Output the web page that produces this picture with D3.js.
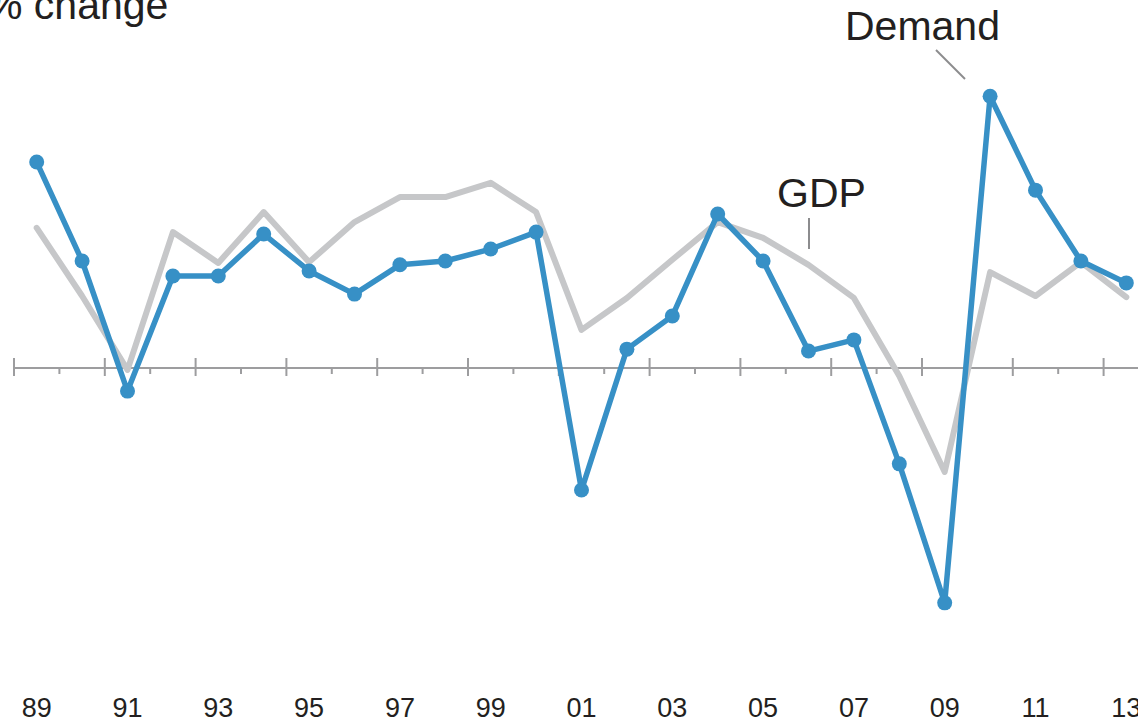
<!DOCTYPE html>
<html>
<head>
<meta charset="utf-8">
<script src="https://cdn.jsdelivr.net/npm/d3@7"></script>
<style>
  body { margin: 0; background: #fff; overflow: hidden; }
  svg { display: block; }
  .lbl { font-family: "Liberation Sans", Arial, sans-serif; fill: #231f20; }
  .tick-lbl { font-family: "Liberation Sans", Arial, sans-serif; fill: #231f20; }
</style>
</head>
<body>
<div id="chart"></div>
<script>
// year labels (two-digit) and the two annual % change series
var years = ["89","90","91","92","93","94","95","96","97","98","99","00","01",
             "02","03","04","05","06","07","08","09","10","11","12","13"];
var demand = [5.35, 2.78, -0.6, 2.39, 2.39, 3.48, 2.52, 1.92, 2.68, 2.78, 3.09, 3.53, -3.17,
              0.49, 1.35, 4.0, 2.78, 0.44, 0.73, -2.49, -6.1, 7.06, 4.62, 2.78, 2.21];
var gdp = [3.64, 1.87, -0.05, 3.53, 2.73, 4.05, 2.75, 3.79, 4.44, 4.44, 4.81, 4.05, 0.99,
           1.82, 2.81, 3.79, 3.38, 2.68, 1.82, -0.21, -2.7, 2.49, 1.87, 2.75, 1.84];
var tickYears = years.filter(function(d, i){ return i % 2 === 0; });

var width = 1138, height = 721;

var svg = d3.select("#chart").append("svg")
    .attr("width", width)
    .attr("height", height);

var x = d3.scaleBand()
    .domain(years)
    .range([14, 1149]);

var y = d3.scaleLinear()
    .domain([-8, 10])
    .range([676, -17]);

var cx = function(d){ return x(d) + x.bandwidth() / 2; };

// zero axis with ticks on the year boundaries
var y0 = y(0);
svg.append("line")
    .attr("x1", x.range()[0]).attr("x2", width)
    .attr("y1", y0).attr("y2", y0)
    .attr("stroke", "#9d9d9f").attr("stroke-width", 2);

svg.selectAll(".tick")
    .data(years)
    .enter().append("line")
    .attr("x1", function(d){ return x(d); })
    .attr("x2", function(d){ return x(d); })
    .attr("y1", function(d, i){ return i % 2 === 0 ? y0 - 10 : y0; })
    .attr("y2", function(d, i){ return i % 2 === 0 ? y0 + 8 : y0 + 6; })
    .attr("stroke", "#9d9d9f").attr("stroke-width", 2);

svg.selectAll(".tick-lbl")
    .data(tickYears)
    .enter().append("text")
    .attr("class", "tick-lbl")
    .attr("x", cx)
    .attr("y", 717)
    .attr("text-anchor", "middle")
    .style("font-size", "27px")
    .text(function(d){ return d; });

var line = function(vals){
    return d3.line()
        .x(function(d, i){ return cx(years[i]); })
        .y(function(d){ return y(d); })(vals);
};

svg.append("path")
    .attr("d", line(gdp))
    .attr("fill", "none")
    .attr("stroke", "#c6c7c9")
    .attr("stroke-width", 6)
    .attr("stroke-linecap", "round")
    .attr("stroke-linejoin", "round");

svg.append("path")
    .attr("d", line(demand))
    .attr("fill", "none")
    .attr("stroke", "#3790c6")
    .attr("stroke-width", 5.5)
    .attr("stroke-linejoin", "round");

svg.selectAll(".dot")
    .data(demand)
    .enter().append("circle")
    .attr("cx", function(d, i){ return cx(years[i]); })
    .attr("cy", function(d){ return y(d); })
    .attr("r", 7.5)
    .attr("fill", "#3790c6");

// labels and leaders
svg.append("text").attr("class", "lbl")
    .attr("x", -14).attr("y", 19)
    .style("font-size", "41px")
    .text("% change");

svg.append("text").attr("class", "lbl")
    .attr("x", 845).attr("y", 40)
    .style("font-size", "41px")
    .text("Demand");
svg.append("line")
    .attr("x1", 936).attr("y1", 50).attr("x2", 965).attr("y2", 79)
    .attr("stroke", "#8c8c8e").attr("stroke-width", 2);

svg.append("text").attr("class", "lbl")
    .attr("x", 777).attr("y", 207)
    .style("font-size", "41px")
    .text("GDP");
svg.append("line")
    .attr("x1", 809).attr("y1", 218).attr("x2", 809).attr("y2", 249)
    .attr("stroke", "#8c8c8e").attr("stroke-width", 2);
</script>
</body>
</html>
